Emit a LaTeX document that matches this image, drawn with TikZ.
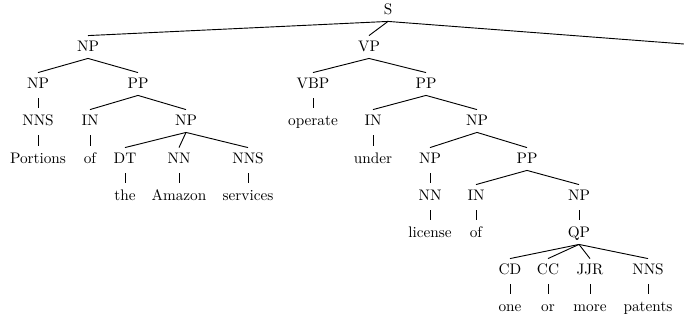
\documentclass[tikz,border=0pt]{standalone}
\usepackage{tikz}
\usetikzlibrary{calc}
\tikzset{
    tag/.style={inner sep=3.5pt, text height=1.5ex, text depth=.25ex},
    branch/.style={line width=0.6pt},
    unary/.style={branch, shorten <=2pt, shorten >=1pt}
}
\begin{document}
\begin{tikzpicture}[x=0.023cm, y=-0.023cm]
        \useasboundingbox (0,0) rectangle (684,323);
        \node[tag] (s) at (388,10) {S};
        \node[tag] (np1) at (88,47) {NP};
        \node[tag] (vp) at (369,47) {VP};
        \coordinate (cut) at (684,44);
        \node[tag] (np2) at (38,84) {NP};
        \node[tag] (pp1) at (138,84) {PP};
        \node[tag] (nns1) at (38,121) {NNS};
        \node[tag] (portions) at (38,159) {Portions};
        \node[tag] (in1) at (90,121) {IN};
        \node[tag] (of1) at (90,159) {of};
        \node[tag] (np3) at (186,121) {NP};
        \node[tag] (dt) at (125,159) {DT};
        \node[tag] (the) at (125,196) {the};
        \node[tag] (nn1) at (179,159) {NN};
        \node[tag] (amazon) at (179,196) {Amazon};
        \node[tag] (nns2) at (248,159) {NNS};
        \node[tag] (services) at (248,196) {services};
        \node[tag] (vbp) at (313,84) {VBP};
        \node[tag] (operate) at (313,121) {operate};
        \node[tag] (pp2) at (426,84) {PP};
        \node[tag] (in2) at (373,121) {IN};
        \node[tag] (under) at (373,159) {under};
        \node[tag] (np4) at (477,121) {NP};
        \node[tag] (np5) at (430,159) {NP};
        \node[tag] (nn2) at (430,196) {NN};
        \node[tag] (license) at (430,233) {license};
        \node[tag] (pp3) at (527,159) {PP};
        \node[tag] (in3) at (476,196) {IN};
        \node[tag] (of2) at (476,233) {of};
        \node[tag] (np6) at (579,196) {NP};
        \node[tag] (qp) at (579,233) {QP};
        \node[tag] (cd) at (510,270) {CD};
        \node[tag] (one) at (510,307) {one};
        \node[tag] (cc) at (548,270) {CC};
        \node[tag] (or) at (548,307) {or};
        \node[tag] (jjr) at (590,270) {JJR};
        \node[tag] (more) at (590,307) {more};
        \node[tag] (nns3) at (648,270) {NNS};
        \node[tag] (patents) at (648,307) {patents};
        \draw[branch] (s.south) -- (cut);
        \foreach \p/\c in {s/np1, s/vp, np1/np2, np1/pp1, pp1/in1, pp1/np3,
            np3/dt, np3/nn1, np3/nns2, vp/vbp, vp/pp2, pp2/in2, pp2/np4,
            np4/np5, np4/pp3, pp3/in3, pp3/np6, qp/cd, qp/cc, qp/jjr, qp/nns3}
            \draw[branch] (\p.south) -- (\c.north);
        \foreach \p/\c in {np2/nns1, nns1/portions, in1/of1, dt/the, nn1/amazon,
            nns2/services, vbp/operate, in2/under, np5/nn2, nn2/license,
            in3/of2, np6/qp, cd/one, cc/or, jjr/more, nns3/patents}
            \draw[unary] (\p.south) -- (\c.north);
    \end{tikzpicture}
\end{document}
